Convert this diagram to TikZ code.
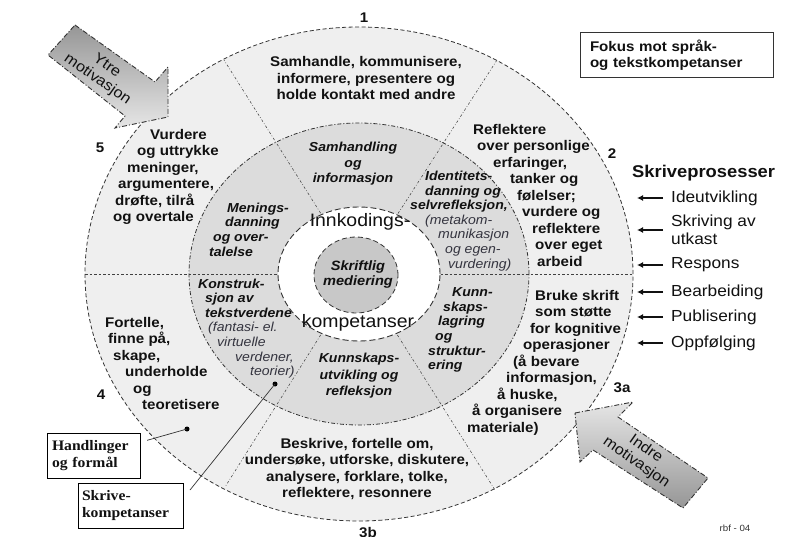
\documentclass[tikz,border=0pt]{standalone}
\usepackage{fontspec}
\setmainfont{Liberation Sans}[FakeStretch=1.08]
\newfontfamily\serifbox{Liberation Serif}[FakeStretch=1.08]
\usetikzlibrary{arrows.meta,calc}
\definecolor{ringout}{HTML}{EFEFEF}
\definecolor{ringmid}{HTML}{DCDCDC}
\definecolor{innerc}{HTML}{C8C8C8}
\definecolor{txt}{HTML}{111111}
\definecolor{paren}{HTML}{34343F}
\definecolor{gdark}{HTML}{969696}
\definecolor{glight}{HTML}{E6E6E6}
\definecolor{edge}{HTML}{333333}
\newcommand\parenstyle{\mdseries\color{paren}}
\tikzset{
  outertext/.style={inner sep=0pt, text=txt, font=\fontsize{14}{16.5}\selectfont\bfseries},
  midtext/.style={inner sep=0pt, text=txt, font=\fontsize{13}{14.6}\selectfont\bfseries\itshape},
  lbl/.style={inner sep=0pt, text=txt, font=\fontsize{14}{16}\selectfont\bfseries},
  item/.style={anchor=west, inner sep=0pt, text=txt, font=\fontsize{16}{18}\selectfont, align=left},
  listarr/.style={line width=1.5pt, -{Latex[length=6pt,width=6pt]}, draw=txt},
  divider/.style={draw=black!75, line width=0.55pt, dash pattern=on 2.5pt off 2pt on 0.7pt off 2pt},
  hdivider/.style={draw=black!75, line width=0.6pt, dash pattern=on 2.5pt off 2pt},
  outerring/.style={fill=ringout, draw=edge, line width=0.8pt, dash pattern=on 4pt off 2.5pt},
  midring/.style={draw=edge, line width=0.8pt, dash pattern=on 4pt off 2pt on 1pt off 2pt},
  whitering/.style={fill=white, draw=edge, line width=0.9pt, dash pattern=on 6pt off 3pt},
  innerring/.style={fill=innerc, draw=edge, line width=0.8pt, dash pattern=on 5pt off 3pt},
  motarrow/.style={draw=edge, line width=0.9pt, dash pattern=on 5pt off 2pt on 1pt off 2pt, shading=axis, shading angle=55},
  mottext/.style={align=center, inner sep=0pt, text=txt, font=\fontsize{15}{16.5}\selectfont},
  sbox/.style={draw=black, line width=0.8pt, align=left, minimum height=45pt, text=txt, font=\serifbox\fontsize{14.5}{17}\selectfont\bfseries},
  pointer/.style={draw=black!80, line width=0.7pt},
}
\begin{document}
\begin{tikzpicture}[x=1pt,y=-1pt]
\useasboundingbox (0,0) rectangle (787,537);
\fill[white] (0,0) rectangle (787,537);

\coordinate (c) at (359,274);
% rings
\path[outerring] (c) ellipse [x radius=274pt, y radius=247pt];
\fill[ringmid] (c) ellipse [x radius=170pt, y radius=151pt];
% dividers
\coordinate (dTL) at (224,60);
\coordinate (dTR) at (497,60);
\coordinate (dBR) at (495,490);
\coordinate (dBL) at (225,487);
\coordinate (hL) at (85,274);
\coordinate (hR) at (633,274);
\draw[divider] (c) -- (dTL);
\draw[divider] (c) -- (dTR);
\draw[divider] (c) -- (dBR);
\draw[divider] (c) -- (dBL);
\draw[hdivider] (hL) -- (hR);
\draw[midring] (c) ellipse [x radius=170pt, y radius=151pt];
\path[whitering] (c) ellipse [x radius=81pt, y radius=67pt];
\path[innerring] (356,275) ellipse [x radius=42pt, y radius=38pt];

% outer ring texts
\node[outertext, align=center] (s1) at (366,78) {Samhandle, kommunisere,\\informere, presentere og\\holde kontakt med andre};
\node[outertext, align=left, anchor=west] (s2) at (473,195) {Reflektere\\\hspace*{4pt}over personlige\\\hspace*{20pt}erfaringer,\\\hspace*{37pt}tanker og\\\hspace*{44pt}følelser;\\\hspace*{49pt}vurdere og\\\hspace*{59pt}reflektere\\\hspace*{62pt}over eget\\\hspace*{64pt}arbeid};
\node[outertext, align=left, anchor=west] (s3) at (467,362.5) {\hspace*{68pt}Bruke skrift\\\hspace*{68pt}som støtte\\\hspace*{63pt}for kognitive\\\hspace*{56pt}operasjoner\\\hspace*{46pt}(å bevare\\\hspace*{39pt}informasjon,\\\hspace*{30pt}å huske,\\\hspace*{5pt}å organisere\\materiale)};
\node[outertext, align=center] (s4) at (357,469) {Beskrive, fortelle om,\\undersøke, utforske, diskutere,\\analysere, forklare, tolke,\\reflektere, resonnere};
\node[outertext, align=left, anchor=west] (s5) at (105,363.5) {Fortelle,\\\hspace*{3pt}finne på,\\\hspace*{8pt}skape,\\\hspace*{20pt}underholde\\\hspace*{28pt}og\\\hspace*{37pt}teoretisere};
\node[outertext, align=left, anchor=west] (s6) at (113,177) {\hspace*{37pt}Vurdere\\\hspace*{24pt}og uttrykke\\\hspace*{14pt}meninger,\\\hspace*{5pt}argumentere,\\\hspace*{2pt}drøfte, tilrå\\og overtale};

% middle ring texts
\node[midtext, align=center, font=\fontsize{13}{15.5}\selectfont\bfseries\itshape] (m1) at (353,164) {Samhandling\\og\\informasjon};
\node[midtext, align=left, anchor=west] (m2) at (410,221) {\hspace*{15pt}Identitets-\\\hspace*{15pt}danning og\\selvrefleksjon,\\\hspace*{15pt}{\parenstyle (metakom-}\\\hspace*{28pt}{\parenstyle munikasjon}\\\hspace*{35pt}{\parenstyle og egen-}\\\hspace*{38pt}{\parenstyle vurdering)}};
\node[midtext, align=left, anchor=west] (m3) at (428,330) {\hspace*{24pt}Kunn-\\\hspace*{15pt}skaps-\\\hspace*{10pt}lagring\\\hspace*{7pt}og\\struktur-\\ering};
\node[midtext, align=center, font=\fontsize{13}{16.5}\selectfont\bfseries\itshape] (m4) at (359,376) {Kunnskaps-\\utvikling og\\refleksjon};
\node[midtext, align=left, anchor=west] (m5) at (198,328.5) {Konstruk-\\\hspace*{7pt}sjon av\\\hspace*{7pt}tekstverdene\\\hspace*{10pt}{\parenstyle (fantasi- el.}\\\hspace*{19pt}{\parenstyle virtuelle}\\\hspace*{37pt}{\parenstyle verdener,}\\\hspace*{52pt}{\parenstyle teorier)}};
\node[midtext, align=left, anchor=west] (m6) at (209,229.5) {\hspace*{18pt}Menings-\\\hspace*{16pt}danning\\\hspace*{4pt}og over-\\talelse};

% centre texts
\node[inner sep=0pt, text=txt, font=\fontsize{18}{20}\selectfont] (ink) at (360,222) {Innkodings-};
\node[inner sep=0pt, text=txt, font=\fontsize{18}{20}\selectfont] (komp) at (358,323) {kompetanser};
\node[midtext, align=center, font=\fontsize{13.5}{15}\selectfont\bfseries\itshape] (skr) at (358,275) {Skriftlig\\mediering};

% sector numbers
\node[lbl] (n1) at (364,18) {1};
\node[lbl] (n2) at (612,154) {2};
\node[lbl] (n3a) at (622,388) {3a};
\node[lbl] (n3b) at (368,533) {3b};
\node[lbl] (n4) at (101,395) {4};
\node[lbl] (n5) at (100,148) {5};

% focus box
\node[draw=edge, line width=1pt, minimum width=193pt, minimum height=45pt, text width=173pt, inner xsep=10pt, inner ysep=0pt, align=left, text=txt, font=\fontsize{14}{16}\selectfont\bfseries] (fokus) at (676.5,55.5) {Fokus mot språk-\\og tekstkompetanser};

% writing process list
\node[inner sep=0pt, anchor=west, text=txt, font=\fontsize{17}{20}\selectfont\bfseries] (skp) at (632,173) {Skriveprosesser};
\node[item] (ide) at (671,198) {Ideutvikling};
\node[item] (utk) at (671,230) {Skriving av\\utkast};
\node[item] (resp) at (671,265) {Respons};
\node[item] (bear) at (671,292) {Bearbeiding};
\node[item] (publ) at (671,317) {Publisering};
\node[item] (oppf) at (671,343) {Oppfølging};
\foreach \n in {ide,utk,resp,bear,publ,oppf}{
  \draw[listarr] ([xshift=-8pt]\n.west) -- ([xshift=-34pt]\n.west);
}

% motivation arrows
\path[motarrow, top color=gdark, bottom color=glight] (75,25) -- (155,82) -- (168,67) -- (168,117) -- (115,128) -- (125,116) -- (48,55) -- cycle;
\node[mottext, rotate=-35] (ytre) at (102,73) {Ytre\\motivasjon};
\path[motarrow, top color=glight, bottom color=gdark] (575,413) -- (633,402) -- (618,417) -- (708,478) -- (683,508) -- (593,450) -- (580,462) -- cycle;
\node[mottext, rotate=-35] (indre) at (641,456) {Indre\\motivasjon};

% legend boxes
\node[sbox, minimum width=93pt, text width=83pt, inner xsep=5pt, inner ysep=0pt] (hand) at (93.5,455.5) {Handlinger\\og formål};
\node[sbox, minimum width=105pt, text width=97pt, inner xsep=4pt, inner ysep=0pt] (skk) at (130.5,505.5) {Skrive-\\kompetanser};
\coordinate (hdot) at (187,429);
\coordinate (sdot) at (275,384);
\coordinate (send) at (190,490);
\fill[black] (hdot) circle (2.5pt);
\fill[black] (sdot) circle (2.5pt);
\draw[pointer, shorten <=7pt] (hand) -- (hdot);
\draw[pointer] (send) -- (sdot);

\node[inner sep=0pt, text=black!80, font=\fontsize{9}{10}\selectfont] (rbf) at (735,528) {rbf - 04};
\end{tikzpicture}
\end{document}
